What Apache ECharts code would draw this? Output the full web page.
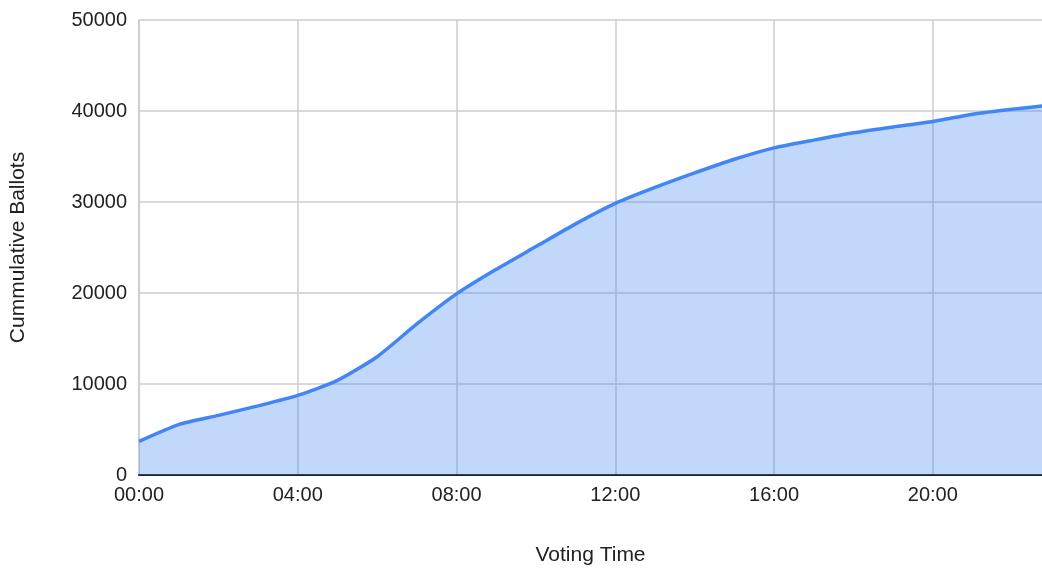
<!DOCTYPE html>
<html>
<head>
<meta charset="utf-8">
<script src="https://cdn.jsdelivr.net/npm/echarts@6/dist/echarts.min.js"></script>
<style>
  html, body { margin: 0; padding: 0; background: #fff; }
  #chart { width: 1042px; height: 571px; }
</style>
</head>
<body>
<div id="chart"></div>
<script>
// hour of day for each reading
const hours = [0, 1, 2, 3, 4, 5, 6, 7, 8, 9, 10, 11, 12, 13, 14, 15, 16, 17, 18, 19, 20, 21, 22, 23];
// cumulative ballots
const ballots = [3700, 5540, 6550, 7600, 8750, 10400, 13000, 16600, 19900, 22600, 25100, 27600,
  29850, 31600, 33200, 34700, 35950, 36800, 37600, 38250, 38850, 39650, 40200, 40650];
const yTicks = [0, 10000, 20000, 30000, 40000, 50000];

const chart = echarts.init(document.getElementById('chart'));

const pad = n => (n < 10 ? '0' : '') + n;

chart.setOption({
  animation: false,
  textStyle: { fontFamily: 'Liberation Sans, Arial, sans-serif' },
  grid: { left: 135, right: -3, top: 20, bottom: 91, containLabel: false },
  xAxis: {
    type: 'value',
    min: 0,
    max: 22.75,
    interval: 4,
    name: 'Voting Time',
    nameLocation: 'middle',
    nameGap: 70,
    nameTextStyle: { fontSize: 21, color: '#222' },
    axisLine: { show: true, lineStyle: { color: '#222', width: 2 } },
    axisTick: { show: false },
    axisLabel: {
      fontSize: 20, color: '#222', margin: 10,
      showMaxLabel: false,
      formatter: v => pad(v) + ':00'
    },
    splitLine: { show: true, showMaxLine: false, lineStyle: { color: '#cccccc', width: 1.5 } }
  },
  yAxis: {
    type: 'value',
    min: yTicks[0],
    max: yTicks[yTicks.length - 1],
    interval: 10000,
    name: 'Cummulative Ballots',
    nameLocation: 'middle',
    nameGap: 110,
    nameTextStyle: { fontSize: 21, color: '#222' },
    axisLine: { show: true, lineStyle: { color: '#cccccc', width: 1.5 } },
    axisTick: { show: false },
    axisLabel: { fontSize: 20, color: '#222', margin: 12, formatter: v => String(v) },
    splitLine: { show: true, lineStyle: { color: '#cccccc', width: 1.5 } }
  },
  series: [{
    type: 'line',
    data: hours.map((h, i) => [h, ballots[i]]),
    symbol: 'none',
    smooth: 0.2,
    clip: true,
    lineStyle: { color: '#4285f4', width: 3.5 },
    areaStyle: { color: '#4285f4', opacity: 0.32 },
    z: 3
  }]
});
</script>
</body>
</html>
